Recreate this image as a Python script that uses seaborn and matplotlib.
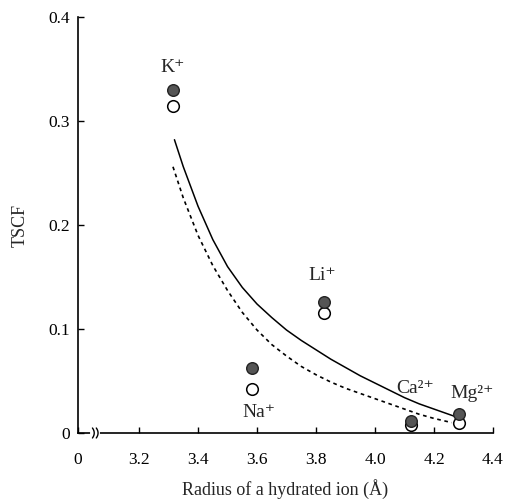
import matplotlib
matplotlib.use("Agg")
import matplotlib.pyplot as plt
import seaborn as sns
import pandas as pd
import numpy as np

# ---- data ----
ions = ["K⁺", "Na⁺", "Li⁺", "Ca²⁺", "Mg²⁺"]
radius = [3.315, 3.583, 3.827, 4.122, 4.285]
tscf_filled = [0.330, 0.0625, 0.126, 0.012, 0.018]
tscf_open = [0.314, 0.042, 0.115, 0.008, 0.0096]

solid_x = [3.32, 3.35, 3.40, 3.45, 3.50, 3.55, 3.60, 3.65, 3.70, 3.75, 3.80,
           3.85, 3.90, 3.95, 4.00, 4.05, 4.10, 4.15, 4.20, 4.27]
solid_y = [0.282, 0.256, 0.218, 0.186, 0.160, 0.140, 0.124, 0.111, 0.099, 0.089, 0.080,
           0.071, 0.063, 0.055, 0.048, 0.041, 0.034, 0.028, 0.023, 0.016]
dash_x = [3.315, 3.35, 3.40, 3.45, 3.50, 3.55, 3.60, 3.65, 3.70, 3.75, 3.80,
          3.85, 3.90, 3.95, 4.00, 4.05, 4.10, 4.15, 4.20, 4.26]
dash_y = [0.256, 0.226, 0.190, 0.161, 0.137, 0.116, 0.099, 0.085, 0.074, 0.064, 0.056,
          0.049, 0.043, 0.038, 0.033, 0.028, 0.023, 0.018, 0.014, 0.010]

xticks = [2.993, 3.2, 3.4, 3.6, 3.8, 4.0, 4.2, 4.4]
xtick_labels = ["0", "3.2", "3.4", "3.6", "3.8", "4.0", "4.2", "4.4"]
yticks = [0, 0.1, 0.2, 0.3, 0.4]
ytick_labels = ["0", "0.1", "0.2", "0.3", "0.4"]

sns.set_style("ticks")
plt.rcParams["font.family"] = ["Liberation Serif", "DejaVu Serif"]

fig = plt.figure(figsize=(5.15, 5.03), dpi=100)
ax = fig.add_axes([78 / 515, 70 / 503, (493 - 78) / 515, (433 - 17) / 503])

pts = pd.DataFrame({"x": radius, "filled": tscf_filled, "open": tscf_open})
sol = pd.DataFrame({"x": solid_x, "y": solid_y})
dsh = pd.DataFrame({"x": dash_x, "y": dash_y})

sns.lineplot(data=sol, x="x", y="y", ax=ax, color="black", lw=1.1, sort=False)
sns.lineplot(data=dsh, x="x", y="y", ax=ax, color="black", lw=1.2, sort=False,
             linestyle=(0, (2.2, 2.2)))
sns.scatterplot(data=pts, x="x", y="open", ax=ax, s=70, facecolor="white",
                edgecolor="black", linewidth=1.1, zorder=3)
sns.scatterplot(data=pts, x="x", y="filled", ax=ax, s=70, facecolor="#555555",
                edgecolor="#222222", linewidth=1.0, zorder=4)

ax.set_xlim(2.993, 4.4)
ax.set_ylim(0, 0.4)
ax.set_xticks(xticks)
ax.set_xticklabels(xtick_labels)
ax.set_yticks(yticks)
ax.set_yticklabels(ytick_labels)
ax.tick_params(direction="in", length=4, width=1, labelsize=12.5, colors="black")
ax.tick_params(axis="x", pad=14)
ax.tick_params(axis="y", pad=6)
for s in ["top", "right"]:
    ax.spines[s].set_visible(False)
for s in ["left", "bottom"]:
    ax.spines[s].set_linewidth(1.2)
    ax.spines[s].set_color("black")

ax.set_xlabel("Radius of a hydrated ion (Å)", fontsize=13, labelpad=8)
ax.set_ylabel("TSCF", fontsize=13, labelpad=14)

# ion labels
label_pos = [(3.315, 0.351), (3.607, 0.020), (3.82, 0.151), (4.136, 0.043), (4.33, 0.038)]
for name, (lx, ly) in zip(ions, label_pos):
    ax.text(lx, ly, name, ha="center", va="center", fontsize=14)

# axis break symbol on x axis
tr = ax.get_xaxis_transform()
ax.plot([3.040, 3.062], [0, 0], color="white", lw=3, transform=tr, clip_on=False, zorder=5)
tb = np.linspace(-1, 1, 15)
for cx in [3.045, 3.058]:
    ax.plot(cx + 0.006 * (1 - tb ** 2) - 0.003, 0.012 * tb, color="black", lw=1.0,
            transform=tr, clip_on=False, zorder=6)

fig.savefig("out.png", dpi=100)
